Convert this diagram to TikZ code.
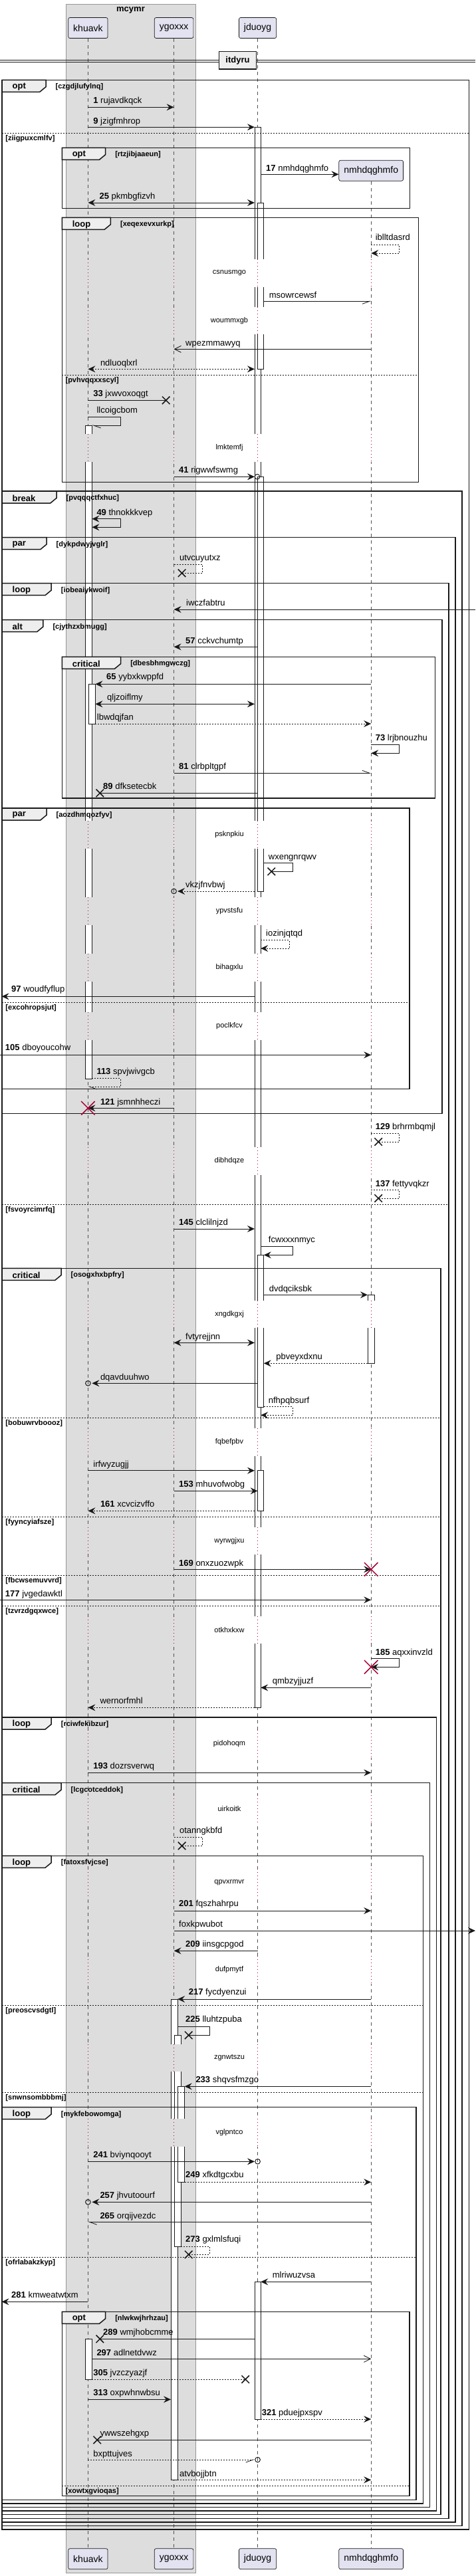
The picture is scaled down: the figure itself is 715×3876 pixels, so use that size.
\documentclass[tikz,border=0pt]{standalone}
\usepackage{fontspec}
\setmainfont{Liberation Sans}
\usetikzlibrary{arrows.meta,shapes.misc,backgrounds}

\definecolor{ink}{HTML}{181818}
\definecolor{partfill}{HTML}{E2E2F0}
\definecolor{groupfill}{HTML}{DDDDDD}
\definecolor{tabfill}{HTML}{EEEEEE}
\definecolor{crimson}{HTML}{A80036}

\tikzset{
  partbox/.style={draw=ink, fill=partfill, rounded corners=2.5pt, line width=0.7pt,
    minimum height=31pt, inner xsep=7.5pt, font=\fontsize{14}{16}\selectfont},
  lifeline/.style={draw=ink!75, line width=0.6pt, dash pattern=on 5pt off 5pt},
  actbar/.style={draw=ink, fill=white, line width=0.8pt},
  delayline/.style={draw=crimson, line width=0.8pt, dash pattern=on 1pt off 4pt},
  frameline/.style={draw=ink, line width=1.5pt},
  tabshape/.style={draw=ink, fill=tabfill, line width=1.5pt},
  elseline/.style={draw=ink, line width=0.8pt, dash pattern=on 2pt off 2pt},
  lbl/.style={anchor=west, inner sep=0pt, text height=9.5pt, text depth=2.7pt,
    font=\fontsize{13}{15}\selectfont},
  kindlbl/.style={anchor=west, inner sep=0pt, font=\bfseries\fontsize{13}{15}\selectfont},
  condlbl/.style={anchor=west, inner sep=0pt, font=\bfseries\fontsize{11}{13}\selectfont},
  delaylbl/.style={inner sep=0pt, font=\fontsize{11}{13}\selectfont},
  divbox/.style={draw=ink, fill=tabfill, line width=1.5pt, minimum width=55.6pt,
    minimum height=26.3pt, inner sep=0pt, font=\bfseries\fontsize{13}{15}\selectfont},
  msgline/.style={draw=ink, line width=0.8pt},
  dmsgline/.style={msgline, dash pattern=on 2pt off 2pt},
  msg/.style={msgline, -{Stealth[length=11pt,width=10pt,inset=4pt]}},
  rmsg/.style={dmsgline, -{Stealth[length=11pt,width=10pt,inset=4pt]}},
  bimsg/.style={msgline, {Stealth[length=11pt,width=10pt,inset=4pt]}-{Stealth[length=11pt,width=10pt,inset=4pt]}},
  rbimsg/.style={dmsgline, {Stealth[length=11pt,width=10pt,inset=4pt]}-{Stealth[length=11pt,width=10pt,inset=4pt]}},
  openmsg/.style={msgline, -{Straight Barb[length=10pt,width=10pt]}},
  halfmsg/.style={msgline, -{Straight Barb[harpoon,length=11pt,width=8pt]}},
  halfmsgs/.style={msgline, -{Straight Barb[harpoon,swap,length=11pt,width=8pt]}},
  rhalfmsg/.style={dmsgline, -{Straight Barb[harpoon,length=11pt,width=8pt]}},
  rhalfmsgs/.style={dmsgline, -{Straight Barb[harpoon,swap,length=11pt,width=8pt]}},
  xmark/.style={cross out, draw=ink, line width=1.5pt, minimum size=10pt, inner sep=0pt},
  killed/.style={cross out, draw=crimson, line width=1.5pt, minimum size=19pt, inner sep=0pt},
  endo/.style={circle, draw=ink, line width=1pt, minimum size=7.6pt, inner sep=0pt},
}

% frammento: nome, x1, y1, x2, y2, fine linguetta, tipo, condizione
\newcommand{\frag}[8]{%
  \draw[frameline] (#2,#3) rectangle (#4,#5);
  \draw[tabshape] (#2,#3) -- (#6,#3) -- (#6,#3+10.4) -- (#6-9.2,#3+18) -- (#2,#3+18) -- cycle;
  \node[kindlbl] (#1-kind) at (#2+15.3,#3+10.5) {#7};
  \node[condlbl] (#1-cond) at (#6+14.5,#3+10.5) {[#8]};
}
% separatore else: nome, x1, x2, y, condizione
\newcommand{\elsesep}[5]{%
  \draw[elseline] (#2,#4) -- (#3,#4);
  \node[condlbl] (#1) at (#2+5.1,#4+8.4) {[#5]};
}

\begin{document}
\begin{tikzpicture}[x=1pt,y=-1pt]
    \useasboundingbox (0,0) rectangle (715,3876);

    % Partecipanti
    \node[partbox] (khuavk) at (132.4,42) {khuavk};
    \node[partbox] (ygoxxx) at (261.6,42) {ygoxxx};
    \node[partbox] (jduoyg) at (387.6,42) {jduoyg};
    \node[partbox] (khuavkB) at (132.4,3850.2) {khuavk};
    \node[partbox] (ygoxxxB) at (261.6,3850.2) {ygoxxx};
    \node[partbox] (jduoygB) at (387.6,3850.2) {jduoyg};
    \node[partbox] (nmhdqghmfoB) at (558.2,3850.2) {nmhdqghmfo};
    \node[partbox] (nmhdqghmfo) at (558.2,256.7) {nmhdqghmfo};
    \node[kindlbl, anchor=center] (mcymr) at (196.5,15) {mcymr};

    % Punti sui bordi delle attivazioni
    \coordinate (khA) at (138.4,0);
    \coordinate (khB) at (143.4,0);
    \coordinate (ygL) at (257,0);
    \coordinate (ygR1) at (267.1,0);
    \coordinate (ygR2) at (272.2,0);
    \coordinate (ygR3) at (277.7,0);
    \coordinate (jdL) at (383,0);
    \coordinate (jdR1) at (392.2,0);
    \coordinate (jdR2) at (396.8,0);
    \coordinate (nmL) at (553,0);
    \coordinate (lftE) at (0,0);
    \coordinate (lftT) at (2.5,0);
    \coordinate (rgtE) at (715,0);

    % Box del gruppo e linee di vita
    \begin{pgfonlayer}{background}
      \fill[white] (0,0) rectangle (715,3876);
      \filldraw[fill=groupfill, draw=ink!45, line width=0.6pt] (99.3,6) rectangle (293.8,3871.7);
      \draw[lifeline] (khuavk.south) -- (khuavkB.north);
      \draw[lifeline] (ygoxxx.south) -- (ygoxxxB.north);
      \draw[lifeline] (jduoyg.south) -- (jduoygB.north);
      \draw[lifeline] (nmhdqghmfo.south) -- (nmhdqghmfoB.north);
    \end{pgfonlayer}

    % Attivazioni
    \draw[actbar] (128.7,640) rectangle (138.4,1623.3);
    \draw[actbar] (133.3,1029.3) rectangle (143.4,1089);
    \draw[actbar] (128.7,3519.3) rectangle (138.4,3580);
    \draw[actbar] (257,3008) rectangle (267.1,3731.3);
    \draw[actbar] (262,3062.3) rectangle (272.2,3380);
    \draw[actbar] (267.1,3139.3) rectangle (277.7,3283.3);
    \draw[actbar] (383,191.3) rectangle (392.2,2569.3);
    \draw[actbar] (387.6,305) rectangle (396.8,555.3);
    \draw[actbar] (387.6,717.3) rectangle (396.8,1341);
    \draw[actbar] (387.6,1888.3) rectangle (396.8,2117);
    \draw[actbar] (387.6,2212.7) rectangle (396.8,2273.3);
    \draw[actbar] (383,3433.3) rectangle (392.2,3640);
    \draw[actbar] (553,1948.3) rectangle (563.2,2051.3);

    % Ritardi
    \foreach \dy/\dtext in {390/csnusmgo,461.7/woummxgb,653.3/lmktemfj,1235/psknpkiu,
        1350/ypvstsfu,1435.3/bihagxlu,1523.3/poclkfcv,1726/dibhdqze,1956.7/xngdkgxj,
        2149/fqbefpbv,2297.7/wyrwgjxu,2431.7/otkhxkxw,2603.3/pidohoqm,2701/uirkoitk,
        2811.7/qpvxrmvr,2943.3/dufpmytf,3075.7/zgnwtszu,3188.3/vglpntco}{
      \fill[groupfill] (124,\dy) rectangle (147,\dy+41.5);
      \fill[groupfill] (253,\dy) rectangle (282,\dy+41.5);
      \fill[white] (379,\dy) rectangle (401,\dy+41.5);
      \fill[white] (549,\dy) rectangle (567,\dy+41.5);
      \foreach \p in {khuavk,ygoxxx,jduoyg,nmhdqghmfo}
        \draw[delayline] (\p |- 0,\dy) -- (\p |- 0,\dy+41.5);
      \node[delaylbl] (delay-\dtext) at (345,\dy+20.5) {\dtext};
    }

    % Divisore
    \draw[ink, line width=1pt] (0,90) -- (715,90);
    \draw[ink, line width=1pt] (0,93.3) -- (715,93.3);
    \node[divbox] (itdyru) at (357.5,90.8) {itdyru};

    % Frammenti
    \frag{f1}{3.2}{120.3}{705.7}{3806.1}{69}{opt}{czgdjlufylnq}
    \elsesep{e1}{3.2}{705.7}{200.3}{ziigpuxcmlfv}
    \frag{f2}{93.3}{222.3}{616.6}{313.3}{158.6}{opt}{rtzjibjaaeun}
    \frag{f3}{93.3}{327.3}{629.4}{725.3}{166.4}{loop}{xeqexevxurkp}
    \elsesep{e3}{93.3}{629.4}{564.3}{pvhvqqxxscyl}
    \frag{f4}{3.2}{739}{695.2}{3800.5}{85}{break}{pvqqqctfxhuc}
    \frag{f5}{3.2}{808.7}{685}{3794.9}{70}{par}{dykpdwyjvglr}
    \frag{f6}{3.2}{877.7}{675}{3789.3}{77.2}{loop}{iobeaiykwoif}
    \elsesep{e6}{3.2}{675}{1812}{fsvoyrcimrfq}
    \frag{f7}{3.2}{932.7}{664.8}{1675.3}{64.8}{alt}{cjythzxbmugg}
    \frag{f8}{93.3}{988.3}{654.7}{1201}{181.6}{critical}{dbesbhmgwczg}
    \frag{f9}{3.2}{1216}{616.1}{1638.3}{70}{par}{aozdhmqozfyv}
    \elsesep{e9}{3.2}{616.1}{1508.3}{excohropsjut}
    \frag{f10}{3.2}{1908.3}{663}{3783.7}{92}{critical}{osogxhxbpfry}
    \elsesep{e10a}{3.2}{663}{2133.3}{bobuwrvboooz}
    \elsesep{e10b}{3.2}{663}{2282.3}{fyyncyiafsze}
    \elsesep{e10c}{3.2}{663}{2370.3}{fbcwsemuvvrd}
    \elsesep{e10d}{3.2}{663}{2416.3}{tzvrzdgqxwce}
    \frag{f11}{3.2}{2584}{656.6}{3778.1}{77.2}{loop}{rciwfekibzur}
    \frag{f12}{3.2}{2682.7}{646.4}{3772.5}{92}{critical}{lcgcotceddok}
    \frag{f13}{3.2}{2792.3}{636.3}{3766.9}{77.2}{loop}{fatoxsfvjcse}
    \elsesep{e13a}{3.2}{636.3}{3017}{preoscvsdgtl}
    \elsesep{e13b}{3.2}{636.3}{3148}{snwnsombbbmj}
    \frag{f14}{3.2}{3170.7}{626.2}{3761.3}{77.2}{loop}{mykfebowomga}
    \elsesep{e14}{3.2}{626.2}{3396.3}{ofrlabakzkyp}
    \frag{f15}{93.3}{3478.3}{616.1}{3755.7}{158.6}{opt}{nlwkwjhrhzau}
    \elsesep{e15}{93.3}{616.1}{3740.3}{xowtxgvioqas}

    % Messaggi
    \draw[msg] (khuavk |- 0,161.3) -- (ygoxxx |- 0,161.3);
    \node[lbl] (m1) at (140.2,151.7) {\textbf{1} rujavdkqck};
    \draw[msg] (khuavk |- 0,191.3) -- (jdL |- 0,191.3);
    \node[lbl] (m9) at (140.2,182.7) {\textbf{9} jzigfmhrop};
    \draw[msg] (jdR1 |- 0,262.3) -- (nmhdqghmfo.west |- 0,262.3);
    \node[lbl] (m17) at (400,254) {\textbf{17} nmhdqghmfo};
    \draw[bimsg] (khuavk |- 0,305) -- (jdL |- 0,305);
    \node[lbl] (m25) at (149.4,296.3) {\textbf{25} pkmbgfizvh};
    \draw[rmsg] (nmhdqghmfo |- 0,368.3) -| (600.5,381) -- (nmhdqghmfo |- 0,381);
    \node[lbl] (m26) at (564.6,358.3) {iblltdasrd};
    \draw[halfmsgs] (jdR2 |- 0,453.3) -- (nmhdqghmfo |- 0,453.3);
    \node[lbl] (m27) at (404.6,444.7) {msowrcewsf};
    \draw[openmsg] (nmhdqghmfo |- 0,525.3) -- (ygoxxx |- 0,525.3);
    \node[lbl] (m28) at (279,517) {wpezmmawyq};
    \draw[rbimsg] (khuavk |- 0,555.3) -- (jdL |- 0,555.3);
    \node[lbl] (m29) at (150.8,546.7) {ndluoqlxrl};
    \coordinate (lost33) at (249.7,602.3);
    \draw[msgline] (khuavk |- 0,602.3) -- (lost33);
    \node[xmark] (x33) at (lost33) {};
    \node[lbl] (m33) at (140.2,592.7) {\textbf{33} jxwvoxoqgt};
    \draw[halfmsg] (khuavk |- 0,627.3) -| (181.1,640) -- (khA |- 0,640);
    \node[lbl] (m34) at (145.3,618.3) {llcoigcbom};
    \draw[msg] (ygoxxx |- 0,717.3) -- (jdL |- 0,717.3);
    \node[endo] (o41) at (387,717.3) {};
    \node[lbl] (m41) at (269,708.3) {\textbf{41} rigwwfswmg};
    \draw[bimsg] (khA |- 0,780.7) -| (181.1,793.3) -- (khA |- 0,793.3);
    \node[lbl] (m49) at (145.3,771.7) {\textbf{49} thnokkkvep};
    \coordinate (lost50) at (273.6,862.3);
    \draw[dmsgline] (ygoxxx |- 0,849.3) -| (304.4,862.3) -- (lost50);
    \node[xmark] (x50) at (lost50) {};
    \node[lbl] (m50) at (269.9,840) {utvcuyutxz};
    \draw[msg] (rgtE |- 0,917) -- (ygoxxx |- 0,917);
    \node[lbl] (m51) at (280,908.3) {iwczfabtru};
    \draw[msg] (jduoyg |- 0,973.3) -- (ygoxxx |- 0,973.3);
    \node[lbl] (m57) at (279,965) {\textbf{57} cckvchumtp};
    \draw[msg] (nmhdqghmfo |- 0,1029.3) -- (khB |- 0,1029.3);
    \node[lbl] (m65) at (160,1019.3) {\textbf{65} yybxkwppfd};
    \draw[bimsg] (khB |- 0,1059.3) -- (jdL |- 0,1059.3);
    \node[lbl] (m66) at (161,1050.3) {qljzoiflmy};
    \draw[rmsg] (khB |- 0,1089) -- (nmhdqghmfo |- 0,1089);
    \node[lbl] (m67) at (145.7,1080) {lbwdqjfan};
    \draw[msg] (nmhdqghmfo |- 0,1120.7) -| (600.5,1133.3) -- (nmhdqghmfo |- 0,1133.3);
    \node[lbl] (m73) at (564.6,1110.7) {\textbf{73} lrjbnouzhu};
    \draw[halfmsg] (ygoxxx |- 0,1163.3) -- (nmhdqghmfo |- 0,1163.3);
    \node[lbl] (m81) at (269,1154.3) {\textbf{81} clrbpltgpf};
    \coordinate (lost89) at (150.3,1193.3);
    \draw[msgline] (jduoyg |- 0,1193.3) -- (lost89);
    \node[xmark] (x89) at (lost89) {};
    \node[lbl] (m89) at (155,1184.3) {\textbf{89} dfksetecbk};
    \coordinate (lost90) at (408.3,1311.3);
    \draw[msgline] (jdR2 |- 0,1298.3) -| (440,1311.3) -- (lost90);
    \node[xmark] (x90) at (lost90) {};
    \node[lbl] (m90) at (403.7,1290) {wxengnrqwv};
    \draw[rmsg] (jdL |- 0,1341) -- (ygR1 |- 0,1341);
    \node[endo] (o91) at (ygoxxx |- 0,1341) {};
    \node[lbl] (m91) at (279,1332.3) {vkzjfnvbwj};
    \draw[rmsg] (jdR1 |- 0,1414.3) -| (435,1427) -- (jdR1 |- 0,1427);
    \node[lbl] (m92) at (400,1404.7) {iozinjqtqd};
    \draw[msg] (jdL |- 0,1499.3) -- (lftT |- 0,1499.3);
    \node[lbl] (m97) at (17,1489.3) {\textbf{97} woudfyflup};
    \draw[msg] (lftE |- 0,1587.3) -- (nmhdqghmfo |- 0,1587.3);
    \node[lbl] (m105) at (7.8,1577.3) {\textbf{105} dboyoucohw};
    \draw[rhalfmsg] (khA |- 0,1622.3) -| (181.1,1635) -- (khuavk |- 0,1635);
    \node[lbl] (m113) at (145.3,1613.3) {\textbf{113} spvjwivgcb};
    \draw[msg] (ygoxxx |- 0,1667.3) -- (khuavk |- 0,1667.3);
    \node[killed] (d121) at (khuavk |- 0,1667.3) {};
    \node[lbl] (m121) at (150.8,1658.7) {\textbf{121} jsmnhheczi};
    \coordinate (lost129) at (569.2,1718);
    \draw[dmsgline] (nmhdqghmfo |- 0,1705.3) -| (600.5,1718) -- (lost129);
    \node[xmark] (x129) at (lost129) {};
    \node[lbl] (m129) at (564.6,1695.7) {\textbf{129} brhrmbqmjl};
    \coordinate (lost137) at (569.2,1803);
    \draw[dmsgline] (nmhdqghmfo |- 0,1790.3) -| (600.5,1803) -- (lost137);
    \node[xmark] (x137) at (lost137) {};
    \node[lbl] (m137) at (564.6,1781.7) {\textbf{137} fettyvqkzr};
    \draw[msg] (ygoxxx |- 0,1849) -- (jdL |- 0,1849);
    \node[lbl] (m145) at (269,1840) {\textbf{145} clclilnjzd};
    \draw[msg] (jdR1 |- 0,1875.3) -| (440,1888.3) -- (jdR2 |- 0,1888.3);
    \node[lbl] (m146) at (403.7,1865.7) {fcwxxxnmyc};
    \draw[msg] (jdR2 |- 0,1948.3) -- (nmL |- 0,1948.3);
    \node[lbl] (m147) at (404.6,1940) {dvdqciksbk};
    \draw[bimsg] (ygoxxx |- 0,2020.3) -- (jdL |- 0,2020.3);
    \node[lbl] (m148) at (279,2011.7) {fvtyrejjnn};
    \draw[rmsg] (nmL |- 0,2051.3) -- (jdR2 |- 0,2051.3);
    \node[lbl] (m149) at (415.2,2042) {pbveyxdxnu};
    \draw[msg] (jduoyg |- 0,2081.3) -- (khA |- 0,2081.3);
    \node[endo] (o150) at (khuavk |- 0,2081.3) {};
    \node[lbl] (m150) at (150.8,2072.7) {dqavduuhwo};
    \draw[rmsg] (jdR2 |- 0,2116.7) -| (440,2129.3) -- (jdR1 |- 0,2129.3);
    \node[lbl] (m151) at (403.7,2107.7) {nfhpqbsurf};
    \draw[msg] (khuavk |- 0,2212.7) -- (jdL |- 0,2212.7);
    \node[lbl] (m152) at (140.2,2204) {irfwyzugjj};
    \draw[msg] (ygoxxx |- 0,2243.3) -- (jduoyg |- 0,2243.3);
    \node[lbl] (m153) at (269,2233.7) {\textbf{153} mhuvofwobg};
    \draw[rmsg] (jdL |- 0,2273.3) -- (khuavk |- 0,2273.3);
    \node[lbl] (m161) at (150.8,2264.3) {\textbf{161} xcvcizvffo};
    \draw[msg] (ygoxxx |- 0,2361.3) -- (nmhdqghmfo |- 0,2361.3);
    \node[killed] (d169) at (nmhdqghmfo |- 0,2361.3) {};
    \node[lbl] (m169) at (269,2352.7) {\textbf{169} onxzuozwpk};
    \draw[msg] (lftE |- 0,2407.3) -- (nmhdqghmfo |- 0,2407.3);
    \node[lbl] (m177) at (7.8,2398.7) {\textbf{177} jvgedawktl};
    \draw[msg] (nmhdqghmfo |- 0,2495.3) -| (600.5,2508.3) -- (nmhdqghmfo |- 0,2508.3);
    \node[killed] (d185) at (nmhdqghmfo |- 0,2508.3) {};
    \node[lbl] (m185) at (564.6,2486.7) {\textbf{185} aqxxinvzld};
    \draw[msg] (nmhdqghmfo |- 0,2539.3) -- (jdR1 |- 0,2539.3);
    \node[lbl] (m186) at (409.7,2530) {qmbzyjjuzf};
    \draw[rmsg] (jdL |- 0,2569.3) -- (khuavk |- 0,2569.3);
    \node[lbl] (m187) at (150.3,2560) {wernorfmhl};
    \draw[msg] (khuavk |- 0,2667.3) -- (nmhdqghmfo |- 0,2667.3);
    \node[lbl] (m193) at (140.2,2657.7) {\textbf{193} dozrsverwq};
    \coordinate (lost194) at (273.6,2777.3);
    \draw[dmsgline] (ygoxxx |- 0,2764.3) -| (304.4,2777.3) -- (lost194);
    \node[xmark] (x194) at (lost194) {};
    \node[lbl] (m194) at (269.9,2755) {otanngkbfd};
    \draw[msg] (ygoxxx |- 0,2875) -- (nmhdqghmfo |- 0,2875);
    \node[lbl] (m201) at (269,2865.3) {\textbf{201} fqszhahrpu};
    \draw[msg] (ygoxxx |- 0,2905) -- (rgtE |- 0,2905);
    \node[lbl] (m202) at (269,2896) {foxkpwubot};
    \draw[msg] (jduoyg |- 0,2935.3) -- (ygoxxx |- 0,2935.3);
    \node[lbl] (m209) at (279,2926.3) {\textbf{209} iinsgcpgod};
    \draw[msg] (nmhdqghmfo |- 0,3008) -- (ygR1 |- 0,3008);
    \node[lbl] (m217) at (283.7,2998.3) {\textbf{217} fycdyenzui};
    \coordinate (lost225) at (283.7,3062.3);
    \draw[msgline] (ygR1 |- 0,3049.3) -| (315,3062.3) -- (lost225);
    \node[xmark] (x225) at (lost225) {};
    \node[lbl] (m225) at (279,3039.3) {\textbf{225} lluhtzpuba};
    \draw[msg] (nmhdqghmfo |- 0,3139.3) -- (ygR3 |- 0,3139.3);
    \node[lbl] (m233) at (294.3,3130) {\textbf{233} shqvsfmzgo};
    \draw[msg] (khuavk |- 0,3252.3) -- (jdL |- 0,3252.3);
    \node[endo] (o241) at (jduoyg |- 0,3252.3) {};
    \node[lbl] (m241) at (140.2,3243.3) {\textbf{241} bviynqooyt};
    \draw[rmsg] (ygR3 |- 0,3283.3) -- (nmhdqghmfo |- 0,3283.3);
    \node[lbl] (m249) at (279,3273.3) {\textbf{249} xfkdtgcxbu};
    \draw[msg] (nmhdqghmfo |- 0,3313.3) -- (khA |- 0,3313.3);
    \node[endo] (o257) at (khuavk |- 0,3313.3) {};
    \node[lbl] (m257) at (150.3,3304.3) {\textbf{257} jhvutoourf};
    \draw[halfmsg] (nmhdqghmfo |- 0,3343.3) -- (khuavk |- 0,3343.3);
    \node[lbl] (m265) at (150.3,3334.7) {\textbf{265} orqijvezdc};
    \coordinate (lost273) at (283.7,3392.3);
    \draw[dmsgline] (ygR2 |- 0,3380) -| (315,3392.3) -- (lost273);
    \node[xmark] (x273) at (lost273) {};
    \node[lbl] (m273) at (279,3369.7) {\textbf{273} gxlmlsfuqi};
    \draw[msg] (nmhdqghmfo |- 0,3433.3) -- (jdR1 |- 0,3433.3);
    \node[lbl] (m274) at (409.7,3424.3) {mlriwuzvsa};
    \draw[msg] (khuavk |- 0,3463.3) -- (lftT |- 0,3463.3);
    \node[lbl] (m281) at (17,3454.3) {\textbf{281} kmweatwtxm};
    \coordinate (lost289) at (150.3,3519.3);
    \draw[msgline] (jdL |- 0,3519.3) -- (lost289);
    \node[xmark] (x289) at (lost289) {};
    \node[lbl] (m289) at (155,3510.3) {\textbf{289} wmjhobcmme};
    \draw[openmsg] (khA |- 0,3549.3) -- (nmhdqghmfo |- 0,3549.3);
    \node[lbl] (m297) at (145.3,3540.7) {\textbf{297} adlnetdvwz};
    \coordinate (lost305) at (369.2,3580);
    \draw[dmsgline] (khA |- 0,3580) -- (lost305);
    \node[xmark] (x305) at (lost305) {};
    \node[lbl] (m305) at (140.2,3570.7) {\textbf{305} jvzczyazjf};
    \draw[msg] (khuavk |- 0,3610.3) -- (ygL |- 0,3610.3);
    \node[lbl] (m313) at (140.2,3601.3) {\textbf{313} oxpwhnwbsu};
    \draw[rmsg] (jdR1 |- 0,3640) -- (nmhdqghmfo |- 0,3640);
    \node[lbl] (m321) at (393.6,3631.3) {\textbf{321} pduejpxspv};
    \coordinate (lost322) at (146.2,3671.3);
    \draw[msgline] (nmhdqghmfo |- 0,3671.3) -- (lost322);
    \node[xmark] (x322) at (lost322) {};
    \node[lbl] (m322) at (150.3,3662) {ywwszehgxp};
    \draw[rhalfmsgs] (khuavk |- 0,3701) -- (jdL |- 0,3701);
    \node[endo] (o323) at (jduoyg |- 0,3701) {};
    \node[lbl] (m323) at (140.2,3692.7) {bxpttujves};
    \draw[rmsg] (ygR1 |- 0,3731.3) -- (nmhdqghmfo |- 0,3731.3);
    \node[lbl] (m324) at (269.9,3722.7) {atvbojjbtn};
\end{tikzpicture}
\end{document}
